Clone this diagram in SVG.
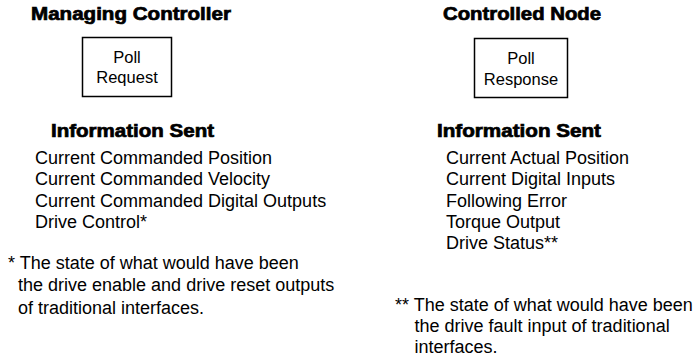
<svg xmlns="http://www.w3.org/2000/svg" width="697" height="360" viewBox="0 0 697 360">
<style>
.h{font-family:"Liberation Sans",Arial,sans-serif;font-weight:bold;font-size:18px;fill:#000;stroke:#000;stroke-width:0.7px}
.t{font-family:"Liberation Sans",Arial,sans-serif;font-size:18px;fill:#000}
.b{font-family:"Liberation Sans",Arial,sans-serif;font-size:16.5px;fill:#000;text-anchor:middle}
.box{fill:#fff;stroke:#000;stroke-width:1.5}
</style>
<rect width="697" height="360" fill="#fff"/>
<g id="managing-controller">
<text class="h" x="31" y="19.5" textLength="200" lengthAdjust="spacingAndGlyphs">Managing Controller</text>
</g>
<g id="poll-request">
<rect class="box" x="82.5" y="37.5" width="89" height="59"/>
<text class="b" x="127" y="63">Poll</text>
<text class="b" x="127" y="83">Request</text>
</g>
<g id="controlled-node">
<text class="h" x="443" y="20" textLength="158" lengthAdjust="spacingAndGlyphs">Controlled Node</text>
</g>
<g id="poll-response">
<rect class="box" x="474.5" y="38.5" width="93" height="59"/>
<text class="b" x="521" y="64">Poll</text>
<text class="b" x="521" y="85">Response</text>
</g>
<g id="info-sent-left">
<text class="h" x="51" y="136.5" textLength="163" lengthAdjust="spacingAndGlyphs">Information Sent</text>
<text class="t" x="35" y="163.5">Current Commanded Position</text>
<text class="t" x="35" y="185">Current Commanded Velocity</text>
<text class="t" x="35" y="206.5">Current Commanded Digital Outputs</text>
<text class="t" x="35" y="228">Drive Control*</text>
</g>
<g id="info-sent-right">
<text class="h" x="437" y="136.5" textLength="164" lengthAdjust="spacingAndGlyphs">Information Sent</text>
<text class="t" x="446" y="163.5">Current Actual Position</text>
<text class="t" x="446" y="185">Current Digital Inputs</text>
<text class="t" x="446" y="206.5">Following Error</text>
<text class="t" x="446" y="227.5">Torque Output</text>
<text class="t" x="446" y="248.5">Drive Status**</text>
</g>
<g id="footnote-left">
<text class="t" x="8" y="268.5">* The state of what would have been</text>
<text class="t" x="18" y="291">the drive enable and drive reset outputs</text>
<text class="t" x="18" y="313.5">of traditional interfaces.</text>
</g>
<g id="footnote-right">
<text class="t" x="395" y="310.5">** The state of what would have been</text>
<text class="t" x="414.5" y="331.5">the drive fault input of traditional</text>
<text class="t" x="414.5" y="353">interfaces.</text>
</g>
<g id="connectors"></g>
</svg>
